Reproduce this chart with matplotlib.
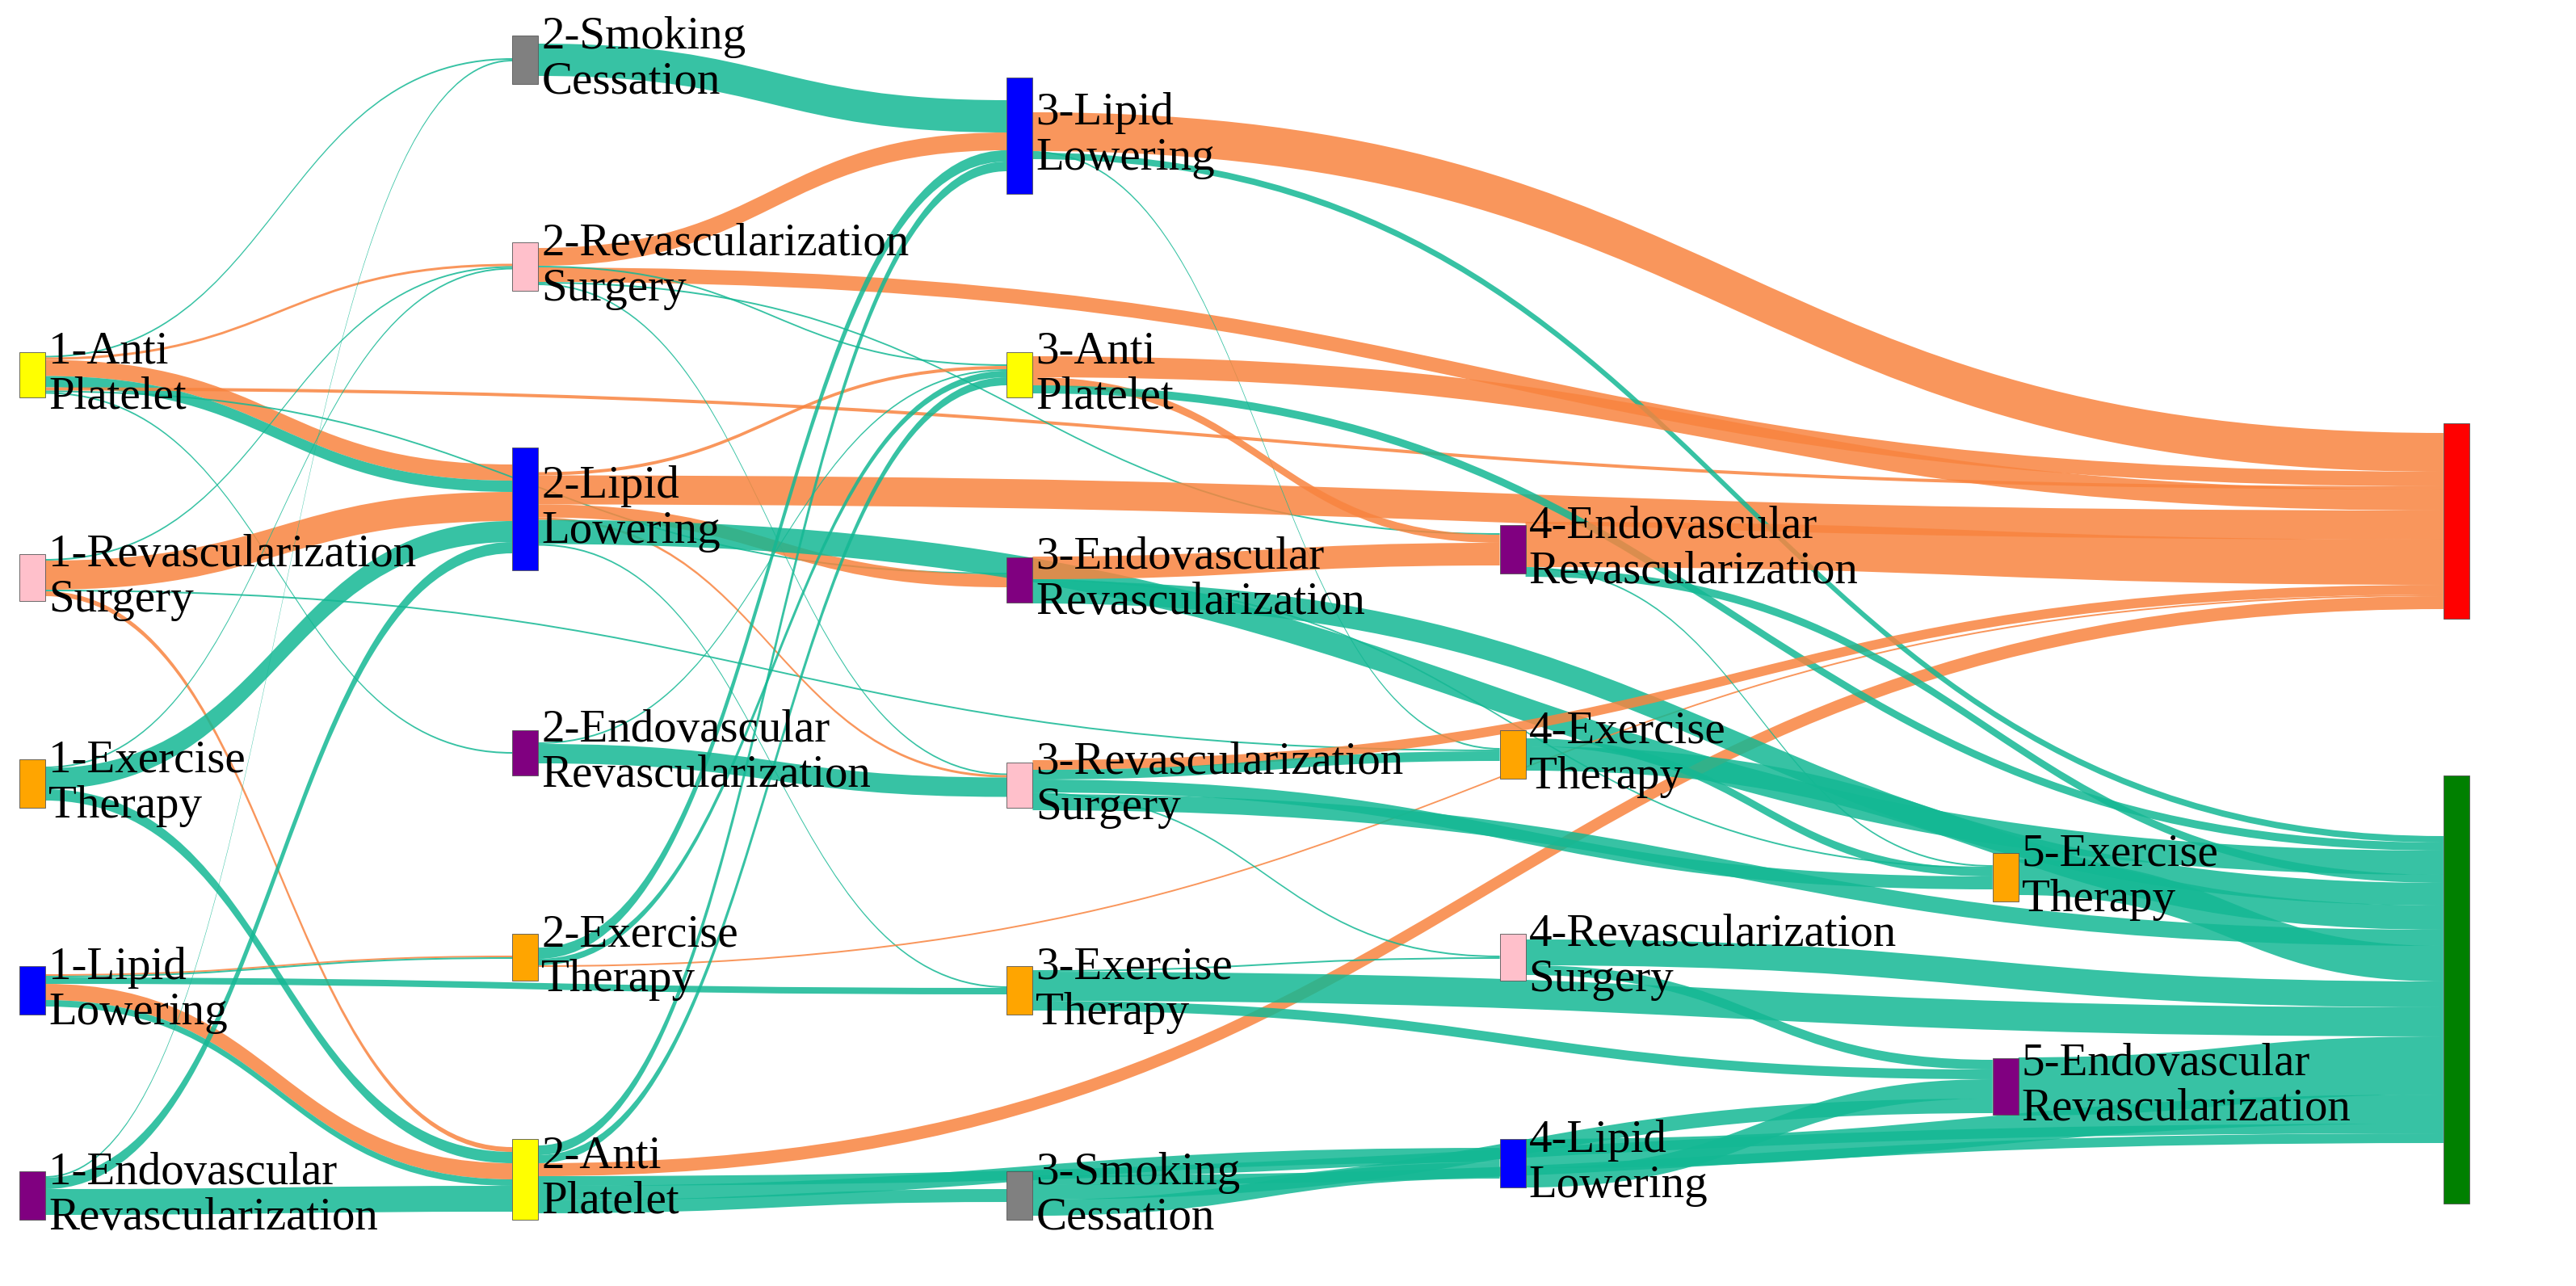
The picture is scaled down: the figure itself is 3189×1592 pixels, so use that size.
"""Treatment-sequence sankey: five lines of therapy flowing to two outcomes."""
import matplotlib

matplotlib.use("Agg")
import matplotlib.pyplot as plt  # noqa: E402
from matplotlib.patches import PathPatch, Rectangle  # noqa: E402
from matplotlib.path import Path  # noqa: E402

# nodes: key, label, column, top y, height, colour
node_keys = ["AP1", "RS1", "ET1", "LL1", "EV1",
             "SC2", "RS2", "LL2", "EV2", "ET2", "AP2",
             "LL3", "AP3", "EV3", "RS3", "ET3", "SC3",
             "EV4", "ET4", "RS4", "LL4",
             "ET5", "EV5",
             "RED", "GRN"]
node_labels = ["1-Anti\nPlatelet", "1-Revascularization\nSurgery", "1-Exercise\nTherapy",
               "1-Lipid\nLowering", "1-Endovascular\nRevascularization",
               "2-Smoking\nCessation", "2-Revascularization\nSurgery", "2-Lipid\nLowering",
               "2-Endovascular\nRevascularization", "2-Exercise\nTherapy", "2-Anti\nPlatelet",
               "3-Lipid\nLowering", "3-Anti\nPlatelet", "3-Endovascular\nRevascularization",
               "3-Revascularization\nSurgery", "3-Exercise\nTherapy", "3-Smoking\nCessation",
               "4-Endovascular\nRevascularization", "4-Exercise\nTherapy",
               "4-Revascularization\nSurgery", "4-Lipid\nLowering",
               "5-Exercise\nTherapy", "5-Endovascular\nRevascularization",
               "", ""]
node_col = [0, 0, 0, 0, 0, 1, 1, 1, 1, 1, 1, 2, 2, 2, 2, 2, 2, 3, 3, 3, 3, 4, 4, 5, 5]
node_top = [218, 343, 470, 598, 725,
            22, 150, 277, 452, 578, 705,
            48, 218, 345, 472, 598, 725,
            325, 452, 578, 705,
            528, 655,
            262, 480]
node_h = [28, 29, 30, 30, 30,
          30, 30, 76, 28, 29, 50,
          72, 28, 28, 28, 30, 30,
          30, 30, 29, 30,
          30, 35,
          121, 265]
node_color = ["#ffff00", "#ffc0cb", "#ffa500", "#0000ff", "#800080",
              "#808080", "#ffc0cb", "#0000ff", "#800080", "#ffa500", "#ffff00",
              "#0000ff", "#ffff00", "#800080", "#ffc0cb", "#ffa500", "#808080",
              "#800080", "#ffa500", "#ffc0cb", "#0000ff",
              "#ffa500", "#800080",
              "#ff0000", "#008000"]
col_x = [12, 317, 623, 928, 1233, 1512]
node_w = 16

# links: source, target, value, kind (o = toward red outcome, t = toward green)
links = [
    ("AP1", "SC2", 1, "t"), ("AP1", "RS2", 1.5, "o"), ("AP1", "LL2", 10, "o"),
    ("AP1", "LL2", 7, "t"), ("AP1", "RED", 2, "o"), ("AP1", "EV2", 1, "t"),
    ("AP1", "EV3", 1, "t"),
    ("RS1", "LL2", 18, "o"), ("RS1", "AP2", 3, "o"), ("RS1", "ET4", 1, "t"),
    ("RS1", "RS2", 1, "t"),
    ("ET1", "LL2", 13, "t"), ("ET1", "AP2", 7, "t"), ("ET1", "RS2", 1, "t"),
    ("LL1", "ET2", 1, "o"), ("LL1", "ET2", 1, "t"), ("LL1", "ET3", 4, "t"),
    ("LL1", "AP2", 10, "o"), ("LL1", "AP2", 4, "t"),
    ("EV1", "AP2", 16, "t"), ("EV1", "LL2", 7, "t"), ("EV1", "SC2", 1, "t"),
    ("SC2", "LL3", 20, "t"),
    ("RS2", "LL3", 11, "o"), ("RS2", "RED", 9, "o"), ("RS2", "AP3", 1, "t"),
    ("RS2", "RS3", 1, "t"), ("RS2", "EV4", 1, "t"),
    ("LL2", "AP3", 2, "o"), ("LL2", "RED", 18, "o"), ("LL2", "EV3", 8, "o"),
    ("LL2", "RS3", 1.5, "o"), ("LL2", "GRN", 15, "t"), ("LL2", "ET3", 1, "t"),
    ("EV2", "RS3", 12, "t"), ("EV2", "AP3", 1, "t"),
    ("ET2", "LL3", 7, "t"), ("ET2", "AP3", 4, "t"), ("ET2", "RED", 1, "o"),
    ("AP2", "LL3", 6, "t"), ("AP2", "AP3", 5, "t"), ("AP2", "RED", 8, "o"),
    ("AP2", "SC3", 8, "t"), ("AP2", "LL4", 9, "t"), ("AP2", "GRN", 6, "t"),
    ("LL3", "RED", 24, "o"), ("LL3", "GRN", 4, "t"), ("LL3", "ET4", 1, "t"),
    ("AP3", "RED", 13, "o"), ("AP3", "EV4", 5, "o"), ("AP3", "GRN", 5, "t"),
    ("EV3", "EV4", 14, "o"), ("EV3", "GRN", 14, "t"), ("EV3", "ET5", 1, "t"),
    ("RS3", "RED", 6, "o"), ("RS3", "ET4", 6, "t"), ("RS3", "ET5", 8, "t"),
    ("RS3", "GRN", 10, "t"), ("RS3", "RS4", 1, "t"),
    ("ET3", "GRN", 18, "t"), ("ET3", "EV5", 6, "t"), ("ET3", "RS4", 1, "t"),
    ("SC3", "LL4", 10, "t"), ("SC3", "EV5", 9, "t"), ("SC3", "GRN", 6, "t"),
    ("EV4", "RED", 28, "o"), ("EV4", "ET5", 1, "t"), ("EV4", "GRN", 5, "t"),
    ("ET4", "GRN", 15, "t"), ("ET4", "ET5", 5, "t"),
    ("RS4", "GRN", 16, "t"), ("RS4", "EV5", 6, "t"),
    ("LL4", "EV5", 12, "t"), ("LL4", "GRN", 18, "t"),
    ("ET5", "GRN", 22, "t"), ("EV5", "GRN", 36, "t"),
]
kind_color = {"o": "#f8843f", "t": "#14b894"}

idx = {k: i for i, k in enumerate(node_keys)}
center = [t + h / 2 for t, h in zip(node_top, node_h)]


def stack(side):
    """Centre the bands of every node, ordered by the other end's position."""
    offs = {}
    for k in node_keys:
        i = idx[k]
        own = [(j, l) for j, l in enumerate(links) if l[0 if side == "out" else 1] == k]
        own.sort(key=lambda e: center[idx[e[1][1 if side == "out" else 0]]])
        total = sum(l[2] for _, l in own)
        y = center[i] - total / 2
        for j, l in own:
            offs[j] = y
            y += l[2]
    return offs


out_off = stack("out")
in_off = stack("in")

fig = plt.figure(figsize=(31.89, 15.92), dpi=100)
ax = fig.add_axes([0, 0, 1, 1])
ax.set_xlim(0, 1594)
ax.set_ylim(796, 0)
ax.axis("off")

for j, (s, t, v, kind) in enumerate(links):
    x0 = col_x[node_col[idx[s]]] + node_w
    x1 = col_x[node_col[idx[t]]]
    y0, y1 = out_off[j], in_off[j]
    xm = (x0 + x1) / 2
    verts = [(x0, y0), (xm, y0), (xm, y1), (x1, y1),
             (x1, y1 + v), (xm, y1 + v), (xm, y0 + v), (x0, y0 + v), (x0, y0)]
    codes = [Path.MOVETO, Path.CURVE4, Path.CURVE4, Path.CURVE4,
             Path.LINETO, Path.CURVE4, Path.CURVE4, Path.CURVE4, Path.CLOSEPOLY]
    ax.add_patch(PathPatch(Path(verts, codes), facecolor=kind_color[kind],
                           edgecolor="none", alpha=0.85, zorder=1))

for i, k in enumerate(node_keys):
    x = col_x[node_col[i]]
    ax.add_patch(Rectangle((x, node_top[i]), node_w, node_h[i],
                           facecolor=node_color[i], edgecolor="#555555",
                           linewidth=0.6, zorder=3))
    if node_labels[i]:
        ax.text(x + node_w + 2, center[i], node_labels[i], ha="left", va="center",
                fontsize=41, family="Liberation Serif", linespacing=1.1,
                color="black", zorder=4)

fig.savefig("out.png", dpi=100)
